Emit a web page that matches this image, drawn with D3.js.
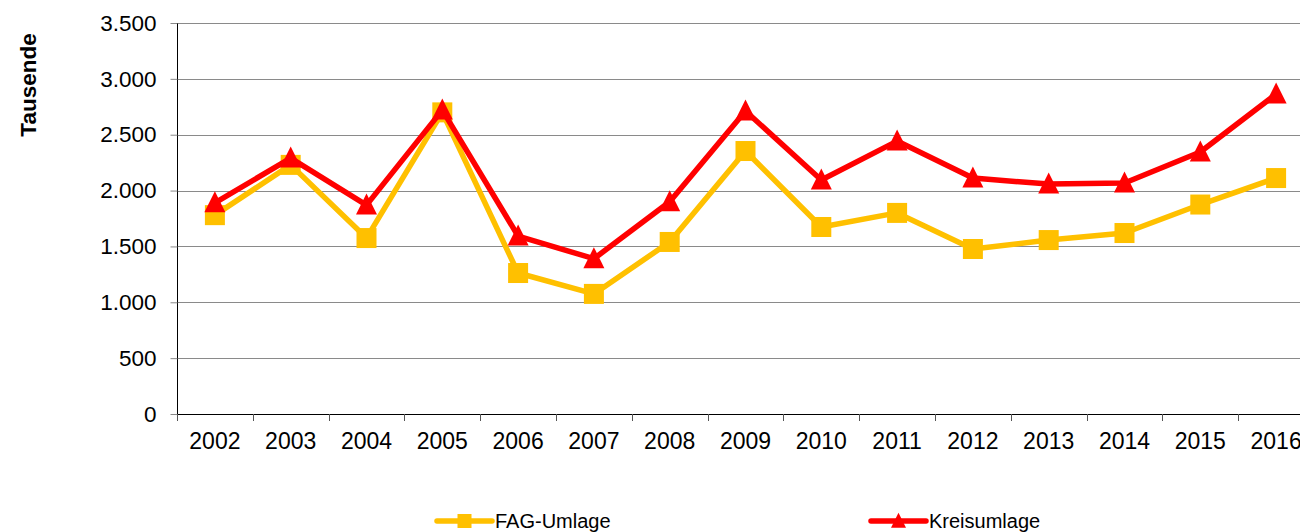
<!DOCTYPE html>
<html><head><meta charset="utf-8">
<script src="https://cdn.jsdelivr.net/npm/d3@7"></script>
<style>body{margin:0;background:#fff;overflow:hidden}svg{display:block}text{font-family:"Liberation Sans",Arial,sans-serif;fill:#000}</style>
</head><body>
<svg id="c" width="1300" height="532"></svg>
<script>
const years = ["2002","2003","2004","2005","2006","2007","2008","2009","2010","2011","2012","2013","2014","2015","2016"];
const fagUmlage = [1780,2230,1575,2700,1262,1075,1540,2354,1674,1800,1477,1557,1620,1875,2112];
const kreisUmlage = [1890,2290,1870,2720,1593,1390,1900,2712,2095,2443,2112,2058,2068,2345,2864];
const yTicks = [0,500,1000,1500,2000,2500,3000,3500];
const seriesNames = ["FAG-Umlage","Kreisumlage"];
const colors = ["#FFC000","#FF0000"];

const svg = d3.select("#c");
const L = 177, T = 23, B = 414, R = 1314;
const x = d3.scaleBand().domain(years).range([L, R]);
const y = d3.scaleLinear().domain([0,3500]).range([B, T]);
const fmt = v => d3.format(",")(v).replace(/,/g, ".");

// gridlines
svg.append("g").selectAll("line").data(yTicks.filter(d=>d>0)).join("line")
  .attr("x1", L).attr("x2", 1300)
  .attr("y1", d=>Math.round(y(d))+0.5).attr("y2", d=>Math.round(y(d))+0.5)
  .attr("stroke", "#8a8a8a").attr("stroke-width", 1.2);

// y axis
const ya = svg.append("g").attr("transform", `translate(${L+0.5},0)`)
  .call(d3.axisLeft(y).tickValues(yTicks).tickFormat(fmt).tickSize(7).tickPadding(14));
ya.select(".domain").attr("stroke","#000").attr("d", `M0,${T}V${B}`);
ya.selectAll(".tick line").attr("stroke","#888");
ya.selectAll("text").style("font-size","22.5px").attr("fill","#000").style("font-family","Liberation Sans, Arial, sans-serif");

// x axis
const xa = svg.append("g").attr("transform", `translate(0,${B+0.5})`)
  .call(d3.axisBottom(x).tickSize(0).tickPadding(18));
xa.select(".domain").attr("stroke","#000").attr("d", `M${L},0H${R}`);
xa.selectAll("text").style("font-size","23px").attr("fill","#000").style("font-family","Liberation Sans, Arial, sans-serif");
// tick marks at band boundaries
svg.append("g").selectAll("line").data(years).join("line")
  .attr("x1", d=>Math.round(x(d))+0.5).attr("x2", d=>Math.round(x(d))+0.5)
  .attr("y1", B).attr("y2", B+7).attr("stroke","#555");

const cx = d => x(d) + x.bandwidth()/2;
const line = d3.line().x((d,i)=>cx(years[i])).y(d=>y(d));

// FAG
svg.append("path").datum(fagUmlage).attr("d", line).attr("fill","none")
  .attr("stroke", colors[0]).attr("stroke-width", 5.5).attr("stroke-linejoin","round");
svg.append("g").selectAll("rect").data(fagUmlage).join("rect")
  .attr("x", (d,i)=>cx(years[i])-10).attr("y", d=>y(d)-10)
  .attr("width", 20).attr("height", 20).attr("fill", colors[0]);

// Kreis
svg.append("path").datum(kreisUmlage).attr("d", line).attr("fill","none")
  .attr("stroke", colors[1]).attr("stroke-width", 5.5).attr("stroke-linejoin","round");
const tri = (px,py,s) => `M${px},${py-s*0.55}L${px+s/2},${py+s*0.45}L${px-s/2},${py+s*0.45}Z`;
svg.append("g").selectAll("path").data(kreisUmlage).join("path")
  .attr("d", (d,i)=>tri(cx(years[i]), y(d), 21)).attr("fill", colors[1]);

// y label
svg.append("text").attr("transform","translate(36,85) rotate(-90)")
  .attr("text-anchor","middle").style("font-size","22.5px").style("font-weight","bold").text("Tausende");

// legend
const leg = [{x:437, name:seriesNames[0], c:colors[0], m:"sq"},{x:871, name:seriesNames[1], c:colors[1], m:"tri"}];
const ly = 521;
leg.forEach(l=>{
  svg.append("line").attr("x1", l.x).attr("x2", l.x+55).attr("y1", ly).attr("y2", ly)
    .attr("stroke", l.c).attr("stroke-width", 5.5).attr("stroke-linecap","round");
  if (l.m==="sq") svg.append("rect").attr("x", l.x+27.5-7).attr("y", ly-7).attr("width",14).attr("height",14).attr("fill", l.c);
  else svg.append("path").attr("d", tri(l.x+27.5, ly, 15)).attr("fill", l.c);
  svg.append("text").attr("x", l.x+58).attr("y", ly+7).style("font-size","20px").text(l.name);
});
</script>
</body></html>
